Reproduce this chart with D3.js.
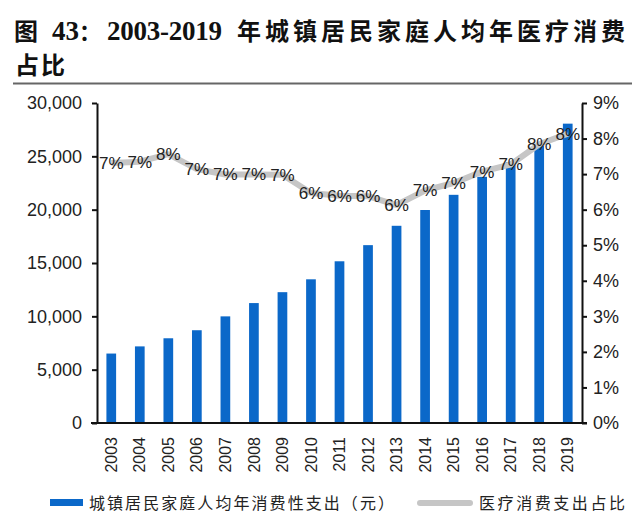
<!DOCTYPE html>
<html><head><meta charset="utf-8">
<script src="https://cdn.jsdelivr.net/npm/d3@7"></script>
<style>body{margin:0;background:#fff}</style>
</head><body>
<svg id="c" width="640" height="528"></svg>
<script>
const years = ["2003","2004","2005","2006","2007","2008","2009","2010","2011","2012","2013","2014","2015","2016","2017","2018","2019"];
const spending = [6511,7182,7943,8697,9997,11243,12265,13471,15161,16674,18488,19968,21392,23079,24445,26112,28063];
const medicalShare = [7.31,7.35,7.56,7.14,6.99,6.99,6.98,6.47,6.39,6.38,6.13,6.54,6.75,7.07,7.27,7.84,8.14];
const leftTicks = [0,5000,10000,15000,20000,25000,30000];
const rightTicks = [0,1,2,3,4,5,6,7,8,9];
const titleParts = ["图", "43", "：", "2003-2019", "年城镇居民家庭人均年医疗消费", "占比"];
const legendBar = "城镇居民家庭人均年消费性支出（元）";
const legendLine = "医疗消费支出占比";

const svg = d3.select("#c");
const L = 97, R = 582, T = 103, B = 423;
const blue = "#0b68c9", gray = "#c6c6c6";
const font = "'Liberation Sans', Arial, sans-serif";
const cjk = "'Noto Sans CJK SC', sans-serif";
const serif = "'Liberation Serif', serif";

// title
const tLayout = [
  {x: 14, y: 40, fs: 24, ff: cjk, len: null},
  {x: 52, y: 40, fs: 27, ff: serif, len: null},
  {x: 79, y: 40, fs: 22, ff: cjk, len: null},
  {x: 107, y: 40, fs: 27, ff: serif, len: 115},
  {x: 237, y: 40, fs: 24, ff: cjk, len: 388},
  {x: 15, y: 74, fs: 24, ff: cjk, len: 50}
];
titleParts.forEach((t, i) => {
  const c = tLayout[i];
  const el = svg.append("text").attr("x", c.x).attr("y", c.y)
    .attr("font-family", c.ff).attr("font-weight", "bold")
    .attr("font-size", c.fs).attr("fill", "#111").text(t);
  if (c.len) el.attr("textLength", c.len).attr("lengthAdjust", "spacing");
});
svg.append("line").attr("x1", 13).attr("x2", 632).attr("y1", 83.5).attr("y2", 83.5)
  .attr("stroke", "#666").attr("stroke-width", 2);

const x = d3.scaleBand().domain(years).range([L, R]).paddingInner(0.66).paddingOuter(0.33);
const yL = d3.scaleLinear().domain([0, 30000]).range([B, T]);
const yR = d3.scaleLinear().domain([0, 9]).range([B, T]);

// bars
svg.selectAll("rect.bar").data(spending).join("rect")
  .attr("x", (d,i)=>x(years[i])).attr("width", x.bandwidth())
  .attr("y", d=>yL(d)).attr("height", d=>B - yL(d)).attr("fill", blue);

// axes
const axL = svg.append("g").attr("transform", `translate(${L},0)`)
  .call(d3.axisLeft(yL).tickValues(leftTicks).tickSize(5).tickSizeOuter(0).tickFormat(d3.format(",")));
const axR = svg.append("g").attr("transform", `translate(${R},0)`)
  .call(d3.axisRight(yR).tickValues(rightTicks).tickSize(5).tickSizeOuter(0).tickFormat(d=>d+"%"));
const axB = svg.append("g").attr("transform", `translate(0,${B})`)
  .call(d3.axisBottom(x).tickSize(0).tickSizeOuter(0));
[axL, axR, axB].forEach(a=>{
  a.selectAll("path,line").attr("stroke", "#111").attr("stroke-width", 2);
  a.selectAll("text").attr("font-family", font).attr("font-size", 18).attr("fill", "#222");
});
axL.selectAll("text").attr("x", -15);
axR.selectAll("text").attr("x", 11);
axB.select("path.domain").attr("d", `M${L-6},0H${R+5}`);
axB.selectAll("text").attr("font-size", 16)
  .attr("transform", "rotate(-90)").attr("text-anchor", "end")
  .attr("x", -14).attr("y", 0).attr("dy", "0.35em");

// line
const pts = medicalShare.map((v,i)=>[x(years[i]) + x.bandwidth()/2, yR(v)]);
svg.append("path").attr("d", d3.line()(pts)).attr("fill", "none")
  .attr("stroke", gray).attr("stroke-width", 6).attr("stroke-linejoin", "round");
svg.selectAll("text.lab").data(medicalShare).join("text")
  .attr("x", (d,i)=>pts[i][0]).attr("y", (d,i)=>pts[i][1]).attr("dy", "0.35em")
  .attr("text-anchor", "middle").attr("font-family", font).attr("font-size", 17).attr("fill", "#222")
  .text(d=>Math.round(d)+"%");

// legend
svg.append("rect").attr("x", 50).attr("y", 499).attr("width", 33).attr("height", 7).attr("fill", blue);
svg.append("text").attr("x", 89).attr("y", 509).attr("font-family", cjk).attr("font-size", 16)
  .attr("fill", "#222").attr("textLength", 305).attr("lengthAdjust", "spacing").text(legendBar);
svg.append("rect").attr("x", 417).attr("y", 500).attr("width", 56).attr("height", 6).attr("rx", 3).attr("fill", gray);
svg.append("text").attr("x", 479).attr("y", 509).attr("font-family", cjk).attr("font-size", 16)
  .attr("fill", "#222").attr("textLength", 146).attr("lengthAdjust", "spacing").text(legendLine);
</script>
</body></html>
